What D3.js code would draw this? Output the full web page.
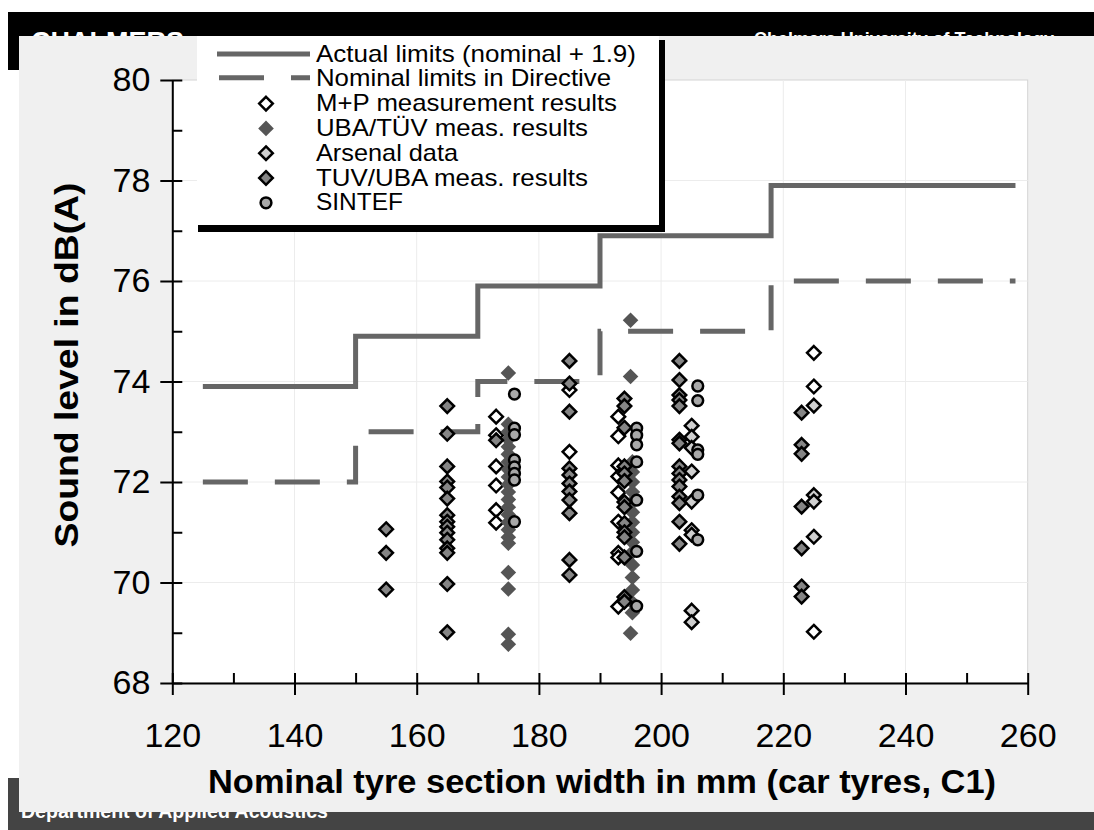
<!doctype html>
<html>
<head>
<meta charset="utf-8">
<style>
	body { margin: 0; background: #fff; }
	text { font-family: "Liberation Sans", Arial, sans-serif; }
	.grid line { stroke: #ececec; stroke-width: 1px; }
	.axis path, .axis line { stroke: #000; stroke-width: 2px; }
	.axis text { font-size: 34px; fill: #000; }
	.limit { fill: none; stroke: #666; stroke-width: 5px; }
</style>
<script src="https://d3js.org/d3.v7.min.js"></script>
</head>
<body>
<div id="canvas"></div>
<script>
	// axis ticks
	var xTicks = [120, 140, 160, 180, 200, 220, 240, 260],
		xMinor = [130, 150, 170, 190, 210, 230, 250],
		yTicks = [68, 70, 72, 74, 76, 78, 80],
		yMinor = [69, 71, 73, 75, 77, 79];

	// limit steps (tyre width breaks, dB(A))
	var limitX = [125, 150, 170, 190, 218, 258],
		actualLimits = [73.9, 74.9, 75.9, 76.9, 77.9],
		nominalLimits = [72, 73, 74, 75, 76];

	// measurements [width, level]
	var mpData = [
		[173, 73.30], [173, 72.93], [173, 72.31], [173, 71.93], [173, 71.44], [173, 71.19],
		[185, 73.83], [185, 72.60],
		[193, 73.30], [193, 72.91], [193, 72.33], [193, 72.11], [193, 71.79], [193, 71.21],
		[193, 70.59], [193, 70.50], [193, 69.52],
		[225, 74.57], [225, 73.90], [225, 69.02]
	];
	var ubaTuvData = [
		[175, 74.17], [175, 73.15], [175, 73.00], [175, 72.85], [175, 72.70], [175, 72.55],
		[175, 72.40], [175, 72.25], [175, 72.10], [175, 71.95], [175, 71.80], [175, 71.65],
		[175, 71.50], [175, 71.35], [175, 71.20], [175, 71.05], [175, 70.90], [175, 70.78],
		[175, 70.20], [175, 69.87], [175, 68.97], [175, 68.77],
		[195, 75.22], [195, 74.10], [195.3, 72.40], [195.3, 72.20], [195.3, 72.00], [195.3, 71.80],
		[195.3, 71.60], [195.3, 71.40], [195.3, 71.20], [195.3, 71.00], [195.3, 70.80], [195.3, 70.60],
		[195.3, 70.35], [195.3, 70.10], [195.3, 69.85], [195.3, 69.60], [195.3, 69.40], [195, 68.99]
	];
	var arsenalData = [
		[205, 73.12], [205, 72.90], [205, 72.68], [205, 72.21], [205, 71.61], [205, 71.04],
		[205, 70.95], [205, 69.44], [205, 69.21],
		[225, 73.52], [225, 71.74], [225, 71.61], [225, 70.91]
	];
	var tuvUbaData = [
		[155, 71.06], [155, 70.59], [155, 69.86],
		[165, 73.51], [165, 72.96], [165, 72.31], [165, 72.01], [165, 71.89], [165, 71.67],
		[165, 71.34], [165, 71.21], [165, 71.11], [165, 70.99], [165, 70.85], [165, 70.68],
		[165, 70.59], [165, 69.97], [165, 69.01],
		[173, 72.83],
		[185, 74.41], [185, 73.96], [185, 73.40], [185, 72.27], [185, 72.14], [185, 71.97],
		[185, 71.81], [185, 71.64], [185, 71.38], [185, 70.45], [185, 70.15],
		[194, 73.66], [194, 73.51], [194, 73.08], [194, 72.31], [194, 72.17], [194, 72.02],
		[194, 71.60], [194, 71.50], [194, 71.18], [194, 71.00], [194, 70.90], [194, 70.50],
		[194, 69.71], [194, 69.62],
		[203, 74.41], [203, 74.03], [203, 73.73], [203, 73.63], [203, 73.51], [203, 72.84],
		[203, 72.77], [203, 72.31], [203, 72.17], [203, 72.04], [203, 71.91], [203, 71.71],
		[203, 71.58], [203, 71.21], [203, 70.77],
		[223, 73.38], [223, 72.74], [223, 72.56], [223, 71.51], [223, 70.68], [223, 69.92], [223, 69.72]
	];
	var sintefData = [
		[176, 73.75], [176, 73.07], [176, 72.94], [176, 72.44], [176, 72.30], [176, 72.17],
		[176, 72.04], [176, 71.21],
		[196, 73.07], [196, 72.93], [196, 72.74], [196, 72.40], [196, 71.64], [196, 70.62], [196, 69.53],
		[206, 73.91], [206, 73.62], [206, 72.64], [206, 72.55], [206, 71.74], [206, 70.85]
	];

	var legendLabels = [
		"Actual limits (nominal + 1.9)",
		"Nominal limits in Directive",
		"M+P measurement results",
		"UBA/TÜV meas. results",
		"Arsenal data",
		"TUV/UBA meas. results",
		"SINTEF"
	];
	var legendWidths = [320, 295, 301, 272, 142, 272, 87];

	var width = 1094,
		height = 830,
		plot = {left: 172.3, right: 1027.7, top: 80, bottom: 683};

	var svg = d3.select("#canvas")
		.append("svg")
		.attr("width", width)
		.attr("height", height);

	// slide frame
	svg.append("rect").attr("x", 8).attr("y", 12).attr("width", width - 8).attr("height", 58).attr("fill", "#000");
	svg.append("text").attr("x", 31).attr("y", 51).attr("fill", "#fff")
		.style("font-size", "27px").style("font-weight", "bold").text("CHALMERS");
	svg.append("text").attr("x", 754).attr("y", 45).attr("fill", "#fff")
		.attr("textLength", 300).attr("lengthAdjust", "spacingAndGlyphs")
		.style("font-size", "18px").style("font-weight", "bold").text("Chalmers University of Technology");
	svg.append("rect").attr("x", 8).attr("y", 778).attr("width", width - 8).attr("height", 52).attr("fill", "#444");
	svg.append("text").attr("x", 21).attr("y", 818).attr("fill", "#fff")
		.attr("textLength", 307).attr("lengthAdjust", "spacingAndGlyphs")
		.style("font-size", "20px").style("font-weight", "bold").text("Department of Applied Acoustics");
	svg.append("rect").attr("x", 19).attr("y", 36).attr("width", width - 19).attr("height", 776).attr("fill", "#f0f0f0");

	var x = d3.scaleLinear().domain([120, 260]).range([plot.left, plot.right]);
	var y = d3.scaleLinear().domain([68, 80]).range([plot.bottom, plot.top]);

	svg.append("rect")
		.attr("x", plot.left).attr("y", plot.top)
		.attr("width", plot.right - plot.left).attr("height", plot.bottom - plot.top)
		.attr("fill", "#fff").attr("stroke", "#d4d4d4").attr("stroke-width", 1);

	var grid = svg.append("g").attr("class", "grid");
	grid.selectAll(".gx").data(xTicks.slice(1, -1)).enter().append("line")
		.attr("x1", d => x(d)).attr("x2", d => x(d)).attr("y1", plot.top).attr("y2", plot.bottom);
	grid.selectAll(".gy").data(yTicks.slice(1, -1)).enter().append("line")
		.attr("y1", d => y(d)).attr("y2", d => y(d)).attr("x1", plot.left).attr("x2", plot.right);

	// axes: major ticks cross the line, minor ticks point inward
	var gx = svg.append("g").attr("class", "axis")
		.attr("transform", `translate(0, ${plot.bottom})`)
		.call(d3.axisBottom(x).tickValues(xTicks).tickSize(12).tickSizeOuter(0).tickPadding(28));
	gx.selectAll(".tick line").attr("y1", -10);
	svg.append("g").attr("class", "axis")
		.attr("transform", `translate(0, ${plot.bottom})`)
		.call(d3.axisBottom(x).tickValues(xMinor).tickSize(-10).tickFormat(""))
		.select(".domain").remove();

	var gy = svg.append("g").attr("class", "axis")
		.attr("transform", `translate(${plot.left}, 0)`)
		.call(d3.axisLeft(y).tickValues(yTicks).tickSize(12).tickSizeOuter(0).tickPadding(10));
	gy.selectAll(".tick line").attr("x1", 10);
	svg.append("g").attr("class", "axis")
		.attr("transform", `translate(${plot.left}, 0)`)
		.call(d3.axisLeft(y).tickValues(yMinor).tickSize(-10).tickFormat(""))
		.select(".domain").remove();

	svg.append("text")
		.attr("x", 602).attr("y", 793)
		.attr("text-anchor", "middle")
		.attr("textLength", 788).attr("lengthAdjust", "spacingAndGlyphs")
		.style("font-size", "34px").style("font-weight", "bold")
		.text("Nominal tyre section width in mm (car tyres, C1)");
	svg.append("text")
		.attr("transform", "translate(78, 365) rotate(-90)")
		.attr("text-anchor", "middle")
		.attr("textLength", 365).attr("lengthAdjust", "spacingAndGlyphs")
		.style("font-size", "34px").style("font-weight", "bold")
		.text("Sound level in dB(A)");

	// step lines
	var stepPoints = function(vals) {
		var pts = vals.map((v, i) => [limitX[i], v]);
		pts.push([limitX[limitX.length - 1], vals[vals.length - 1]]);
		return pts;
	};
	var line = d3.line().x(d => x(d[0])).y(d => y(d[1])).curve(d3.curveStepAfter);

	svg.append("path").attr("class", "limit").attr("d", line(stepPoints(actualLimits)));
	svg.append("path").attr("class", "limit").attr("stroke-dasharray", "45,27")
		.attr("d", line(stepPoints(nominalLimits)));

	// markers
	var diamond = r => `M0,${-r}L${r},0L0,${r}L${-r},0Z`;
	var series = [
		{data: mpData, shape: "diamond", fill: "#fff", stroke: "#000"},
		{data: ubaTuvData, shape: "diamond", fill: "#555", stroke: "none"},
		{data: arsenalData, shape: "diamond", fill: "#cfcfcf", stroke: "#000"},
		{data: tuvUbaData, shape: "diamond", fill: "#858585", stroke: "#000"},
		{data: sintefData, shape: "circle", fill: "#a8a8a8", stroke: "#000"}
	];
	var marker = function(sel, s) {
		if (s.shape === "circle") {
			sel.append("circle").attr("r", 5.4)
				.attr("fill", s.fill).attr("stroke", s.stroke).attr("stroke-width", 2.5);
		} else {
			sel.append("path").attr("d", diamond(s.stroke === "none" ? 7.8 : 6.8))
				.attr("fill", s.fill).attr("stroke", s.stroke).attr("stroke-width", 2.5)
				.attr("stroke-linejoin", "miter");
		}
	};
	series.forEach(function(s) {
		svg.append("g").selectAll("g")
			.data(s.data).enter().append("g")
			.attr("transform", d => `translate(${x(d[0])}, ${y(d[1])})`)
			.each(function() { marker(d3.select(this), s); });
	});

	// legend
	var lg = svg.append("g");
	lg.append("rect").attr("x", 198).attr("y", 40).attr("width", 467).attr("height", 192).attr("fill", "#000");
	lg.append("rect").attr("x", 197).attr("y", 36).attr("width", 462).attr("height", 189).attr("fill", "#fff");

	var rowBase = i => 61.5 + i * 24.8;
	lg.selectAll(".lt").data(legendLabels).enter().append("text")
		.attr("x", 316).attr("y", (d, i) => rowBase(i))
		.attr("textLength", (d, i) => legendWidths[i]).attr("lengthAdjust", "spacingAndGlyphs")
		.style("font-size", "24px")
		.text(d => d);

	lg.append("line").attr("class", "limit")
		.attr("x1", 217).attr("x2", 310).attr("y1", rowBase(0) - 7.5).attr("y2", rowBase(0) - 7.5);
	lg.append("line").attr("class", "limit").attr("stroke-dasharray", "45,27")
		.attr("x1", 219).attr("x2", 310).attr("y1", rowBase(1) - 8.5).attr("y2", rowBase(1) - 8.5);

	series.forEach(function(s, i) {
		var g = lg.append("g").attr("transform", `translate(266, ${rowBase(i + 2) - 7.5})`);
		marker(g, s);
	});
</script>
</body>
</html>
